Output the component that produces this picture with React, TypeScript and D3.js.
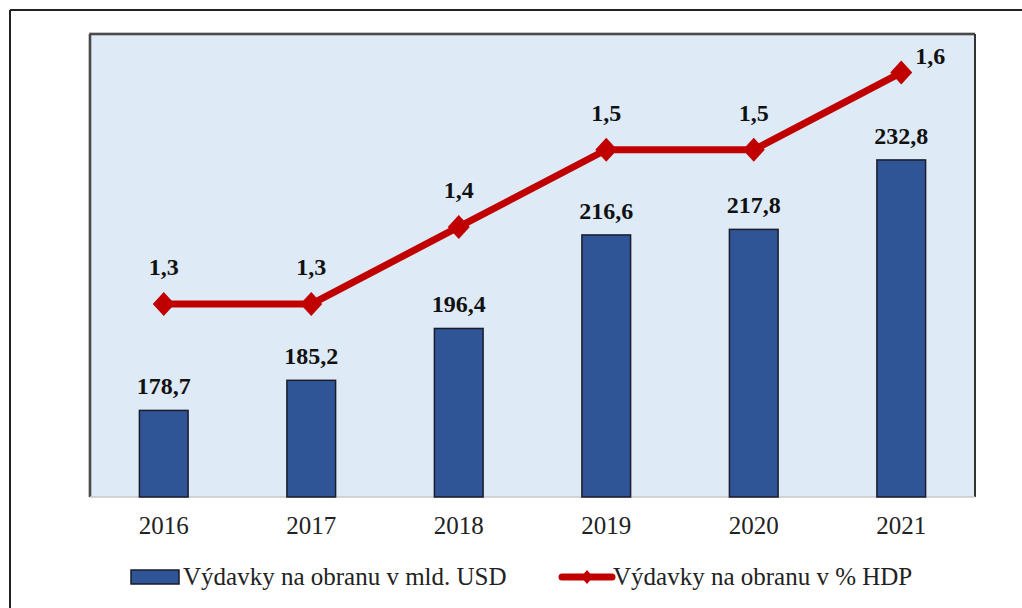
import React from "react";
import * as d3 from "d3";

const years = ["2016", "2017", "2018", "2019", "2020", "2021"];
const spending = [178.7, 185.2, 196.4, 216.6, 217.8, 232.8];
const pctGdp = [1.3, 1.3, 1.4, 1.5, 1.5, 1.6];
const barLabels = ["178,7", "185,2", "196,4", "216,6", "217,8", "232,8"];
const lineLabels = ["1,3", "1,3", "1,4", "1,5", "1,5", "1,6"];
const legendNames = ["Výdavky na obranu v mld. USD", "Výdavky na obranu v % HDP"];

const W = 1022;
const H = 608;
const plot = { left: 90, top: 34, right: 975, bottom: 497 };
const FONT = "Liberation Serif";
const BAR = "#2F5597";
const RED = "#C00000";
const tStyle = { fontFamily: FONT };

export default function App() {
  const x = d3.scaleBand<string>().domain(years).range([plot.left, plot.right]).paddingInner(0.67).paddingOuter(0.335);
  const yBar = d3.scaleLinear().domain([160, 260]).range([plot.bottom, plot.top]);
  const yLine = d3.scaleLinear().domain([1.05, 1.65]).range([plot.bottom, plot.top]);
  const cx = (d: string) => (x(d) as number) + x.bandwidth() / 2;
  const linePath = d3
    .line<number>()
    .x((_, i) => cx(years[i]))
    .y((v) => yLine(v))(pctGdp) as string;
  const diamond = (px: number, py: number, hw = 11, hh = 12) =>
    `M${px},${py - hh}L${px + hw},${py}L${px},${py + hh}L${px - hw},${py}Z`;

  return (
    <svg width={W} height={H} style={{ position: "absolute", left: 0, top: 0, background: "#fff" }}>
      <rect x={0} y={0} width={W} height={H} fill="#fff" />
      {/* outer frame */}
      <line x1={10} y1={10} x2={W} y2={10} stroke="#222" strokeWidth={2} />
      <line x1={10} y1={10} x2={10} y2={H} stroke="#222" strokeWidth={2} />
      {/* plot area */}
      <rect x={plot.left} y={plot.top} width={plot.right - plot.left} height={plot.bottom - plot.top} fill="#DEEAF6" />
      <line x1={plot.left - 1} y1={plot.top} x2={plot.right} y2={plot.top} stroke="#8a8a8a" strokeWidth={3} />
      <line x1={plot.left} y1={plot.top} x2={plot.left} y2={plot.bottom} stroke="#8a8a8a" strokeWidth={3} />
      <line x1={plot.left} y1={plot.top} x2={plot.right} y2={plot.top} stroke="#333" strokeWidth={1.5} />
      <line x1={plot.left} y1={plot.top} x2={plot.left} y2={plot.bottom} stroke="#333" strokeWidth={1.5} />
      <line x1={plot.right} y1={plot.top} x2={plot.right} y2={plot.bottom} stroke="#333" strokeWidth={2} />
      <line x1={plot.left} y1={plot.bottom} x2={plot.right} y2={plot.bottom} stroke="#c8c8c8" strokeWidth={1.5} />
      {/* bars */}
      {years.map((yr, i) => (
        <rect
          key={yr}
          x={x(yr)}
          y={yBar(spending[i])}
          width={x.bandwidth()}
          height={plot.bottom - yBar(spending[i])}
          fill={BAR}
          stroke="#1b1b2a"
          strokeWidth={1.5}
        />
      ))}
      {years.map((yr, i) => (
        <text key={yr} style={tStyle} x={cx(yr)} y={yBar(spending[i]) - 16} textAnchor="middle" fontWeight="bold" fontSize={24} fill="#111">
          {barLabels[i]}
        </text>
      ))}
      {/* line */}
      <path d={linePath} fill="none" stroke={RED} strokeWidth={7} strokeLinejoin="round" />
      {years.map((yr, i) => (
        <path key={yr} d={diamond(cx(yr), yLine(pctGdp[i]))} fill={RED} />
      ))}
      {years.map((yr, i) => {
        const last = i === years.length - 1;
        return (
          <text
            key={yr}
            style={tStyle}
            x={cx(yr) + (last ? 29 : 0)}
            y={yLine(pctGdp[i]) - (last ? 9 : 29)}
            textAnchor="middle"
            fontWeight="bold"
            fontSize={24}
            fill="#111"
          >
            {lineLabels[i]}
          </text>
        );
      })}
      {/* x axis labels */}
      {years.map((yr) => (
        <text key={yr} style={tStyle} x={cx(yr)} y={534} textAnchor="middle" fontSize={25} fill="#222">
          {yr}
        </text>
      ))}
      {/* legend */}
      <rect x={131} y={570} width={48} height={14} fill={BAR} stroke="#1b1b2a" strokeWidth={1.5} />
      <text style={tStyle} x={183} y={585} fontSize={25} fill="#222">{legendNames[0]}</text>
      <line x1={562} y1={577} x2={612} y2={577} stroke={RED} strokeWidth={7} strokeLinecap="round" />
      <path d={diamond(587, 577, 6, 7)} fill={RED} />
      <text style={tStyle} x={613} y={585} fontSize={25} fill="#222">{legendNames[1]}</text>
    </svg>
  );
}
